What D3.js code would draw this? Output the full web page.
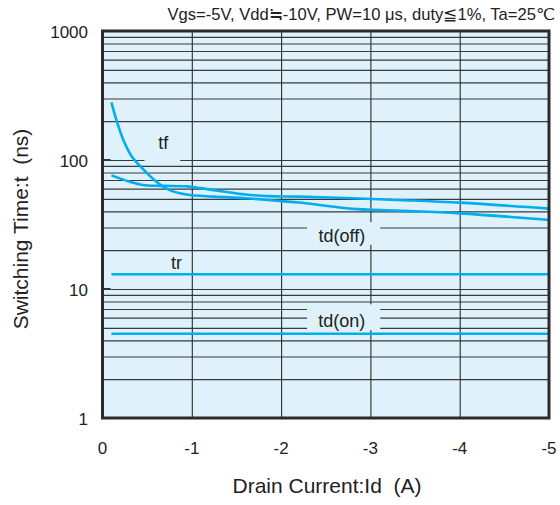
<!DOCTYPE html>
<html>
<head>
<meta charset="utf-8">
<script src="https://cdn.jsdelivr.net/npm/d3@7"></script>
<style>
  body { margin: 0; background: #fff; }
  svg { font-family: "Liberation Sans", Arial, Helvetica, sans-serif; }
</style>
</head>
<body>
<svg id="chart" width="560" height="505"></svg>
<script>
// values
const xTicks = [0, -1, -2, -3, -4, -5];
const yTicks = [1, 10, 100, 1000];

const tfId   = [-0.1, -0.16, -0.23, -0.33, -0.44, -0.59, -0.74, -0.94, -1.24, -1.61, -2.0, -2.2, -2.5, -2.8, -3.3, -4.0, -5.0];
const tfTime = [280, 200, 145, 106, 87, 69, 59, 54, 52, 50.5, 48, 46.8, 44.2, 41.8, 40.5, 38.6, 34.3];

const tdOffId   = [-0.1, -0.3, -0.45, -0.65, -0.95, -1.1, -1.35, -1.6, -1.85, -2.2, -2.8, -3.3, -4.0, -5.0];
const tdOffTime = [76, 68, 64, 63, 62.5, 60.5, 57, 54, 52.5, 52, 50.5, 49, 46.7, 42];

const trId   = [-0.1, -5.0];
const trTime = [13, 13];

const tdOnId   = [-0.1, -5.0];
const tdOnTime = [4.5, 4.5];

// curve names, where they sit, and the patch of grid they cover
const labelNames = ["tf", "td(off)", "tr", "td(on)"];
const labelId    = [-0.68, -2.68, -0.83, -2.68];
const labelTime  = [135, 25.8, 16, 5.6];
const labelBox   = [[-0.47, -0.87, 95, 190], [-2.29, -3.11, 22, 33], null, [-2.29, -3.11, 4.8, 7.6]];

const TITLE = "Vgs=-5V, Vdd\u2252-10V, PW=10 \u03bcs, duty\u22661%, Ta=25\u2103";

const plotL = 102.5, plotR = 549, plotT = 31, plotB = 418;
const BG = "#dff1fa";

const svg = d3.select("#chart");

const x = d3.scaleLinear().domain([0, -5]).range([plotL, plotR]);
const y = d3.scaleLog().domain([1, 1000]).range([plotB, plotT]);

// plot background
svg.append("rect")
  .attr("x", plotL).attr("y", plotT)
  .attr("width", plotR - plotL).attr("height", plotB - plotT)
  .attr("fill", BG);

// horizontal grid (log minor + decades)
const minor = [];
for (let d = 1; d < 1000; d *= 10) {
  for (let k = 1; k < 10; k++) minor.push(d * k);
}
svg.append("g")
  .attr("transform", `translate(${plotL},0)`)
  .call(d3.axisLeft(y).tickValues(minor).tickSize(-(plotR - plotL)).tickFormat(""))
  .call(g => g.select(".domain").remove())
  .call(g => g.selectAll("line").attr("stroke", "#3a3a3a").attr("stroke-width", 1.1));

// vertical grid
svg.append("g")
  .attr("transform", `translate(0,${plotB})`)
  .call(d3.axisBottom(x).tickValues([-1, -2, -3, -4]).tickSize(-(plotB - plotT)).tickFormat(""))
  .call(g => g.select(".domain").remove())
  .call(g => g.selectAll("line").attr("stroke", "#2a2a2a").attr("stroke-width", 1.1));

// label patches hide the horizontal grid behind the names
const boxes = labelBox.filter(b => b);
svg.append("g").selectAll("rect")
  .data(boxes)
  .join("rect")
  .attr("x", b => x(b[0]))
  .attr("y", b => y(b[3]))
  .attr("width", b => x(b[1]) - x(b[0]))
  .attr("height", b => y(b[2]) - y(b[3]))
  .attr("fill", BG);

// decade ticks inside left border
svg.append("g").selectAll("line")
  .data([10, 100])
  .join("line")
  .attr("x1", plotL).attr("x2", plotL + 8)
  .attr("y1", d => y(d)).attr("y2", d => y(d))
  .attr("stroke", "#333").attr("stroke-width", 2);

// curves
const line = d3.line()
  .x(d => x(d[0]))
  .y(d => y(d[1]))
  .curve(d3.curveCatmullRom.alpha(0.5));

const series = [
  d3.zip(tfId, tfTime),
  d3.zip(tdOffId, tdOffTime),
  d3.zip(trId, trTime),
  d3.zip(tdOnId, tdOnTime)
];

svg.append("g").selectAll("path")
  .data(series)
  .join("path")
  .attr("d", d => line(d))
  .attr("fill", "none")
  .attr("stroke", "#00aeef")
  .attr("stroke-width", 2.6);

// curve labels
svg.append("g").selectAll("text")
  .data(d3.zip(labelNames, labelId, labelTime))
  .join("text")
  .attr("x", d => x(d[1]))
  .attr("y", d => y(d[2]) + 6)
  .attr("text-anchor", "middle")
  .attr("font-size", 18)
  .attr("fill", "#222")
  .text(d => d[0]);

// frame
svg.append("rect")
  .attr("x", plotL).attr("y", plotT)
  .attr("width", plotR - plotL).attr("height", plotB - plotT)
  .attr("fill", "none")
  .attr("stroke", "#2b2b2b")
  .attr("stroke-width", 3);

// tick labels
svg.append("g").selectAll("text")
  .data(xTicks)
  .join("text")
  .attr("x", d => x(d))
  .attr("y", 454)
  .attr("text-anchor", "middle")
  .attr("font-size", 17)
  .attr("fill", "#222")
  .text(d => d);

svg.append("g").selectAll("text")
  .data(yTicks)
  .join("text")
  .attr("x", 88)
  .attr("y", d => y(d) + 6.5)
  .attr("text-anchor", "end")
  .attr("font-size", 17)
  .attr("fill", "#222")
  .text(d => d);

// titles
svg.append("text")
  .attr("x", 555).attr("y", 20)
  .attr("text-anchor", "end")
  .attr("font-size", 16.6)
  .attr("fill", "#222")
  .text(TITLE);

svg.append("text")
  .attr("x", 327).attr("y", 493)
  .attr("text-anchor", "middle")
  .attr("font-size", 21)
  .attr("fill", "#222")
  .style("white-space", "pre")
  .text("Drain Current:Id  (A)");

svg.append("text")
  .attr("transform", "translate(28,229) rotate(-90)")
  .attr("text-anchor", "middle")
  .attr("font-size", 21)
  .attr("fill", "#222")
  .style("white-space", "pre")
  .text("Switching Time:t  (ns)");
</script>
</body>
</html>
